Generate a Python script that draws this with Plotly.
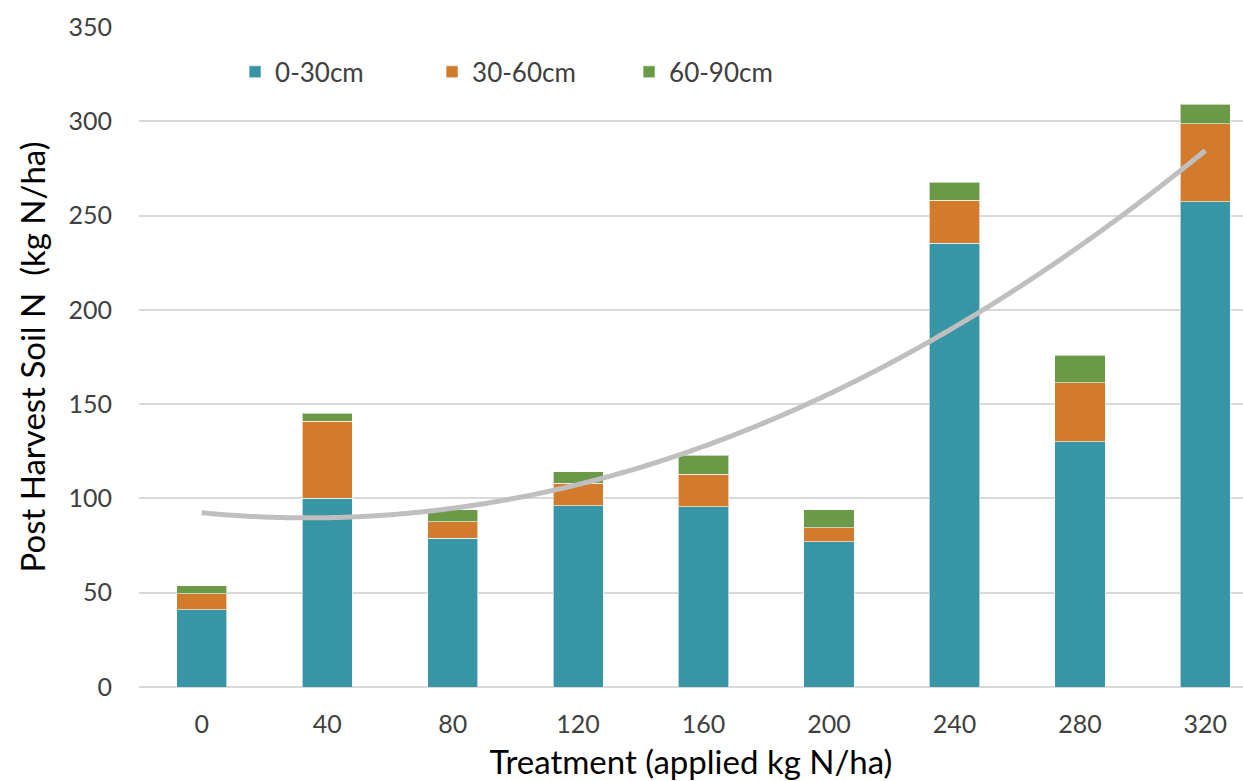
import numpy as np
import plotly.graph_objects as go

treatments = ["0", "40", "80", "120", "160", "200", "240", "280", "320"]
depth_0_30 = [41, 100, 79, 96, 95.6, 77, 235.3, 130, 257.2]
depth_30_60 = [8.5, 41, 8.6, 12, 17.1, 7.4, 22.7, 31.3, 41.4]
depth_60_90 = [4.2, 4.2, 6.4, 6.2, 10.1, 9.6, 9.7, 14.7, 10.4]

series = [("0-30cm", depth_0_30, "#3795A5"),
          ("30-60cm", depth_30_60, "#D27B2D"),
          ("60-90cm", depth_60_90, "#6A9A48")]

idx = np.arange(len(treatments))
totals = np.array(depth_0_30) + np.array(depth_30_60) + np.array(depth_60_90)
coef = np.polyfit(idx, totals, 2)
xs = np.linspace(0, len(treatments) - 1, 300)
ys = np.polyval(coef, xs)

fig = go.Figure()
for name, vals, col in series:
    fig.add_trace(go.Bar(x=idx, y=vals, name=name, marker_color=col,
                         marker_line=dict(color="rgba(255,255,255,0.6)", width=1),
                         width=0.4))
fig.add_trace(go.Scatter(x=xs, y=ys, mode="lines", showlegend=False,
                         line=dict(color="#BFBFBF", width=5, shape="spline"), hoverinfo="skip"))

fig.update_layout(
    barmode="stack",
    width=1243, height=781,
    margin=dict(l=139, r=0, t=27, b=94),
    plot_bgcolor="white", paper_bgcolor="white",
    font=dict(family="Lato, Open Sans, sans-serif", color="#404040", size=25),
    legend=dict(orientation="h", x=0.087, y=0.932, xanchor="left", yanchor="middle",
                font=dict(size=26, color="#404040"), traceorder="normal",
                entrywidth=152, entrywidthmode="pixels",
                bgcolor="rgba(0,0,0,0)"),
    xaxis=dict(range=[-0.5, 8.3], tickmode="array", tickvals=idx, ticktext=treatments,
               showgrid=False, zeroline=False, showline=False, ticks="",
               tickfont=dict(size=25, color="#404040"), ticklabelstandoff=20,
               title=dict(text="Treatment (applied kg N/ha)", font=dict(size=33, color="#000000"),
                          standoff=14)),
    yaxis=dict(range=[0, 350], dtick=50, showgrid=True, gridcolor="#D9D9D9", gridwidth=1.5,
               zeroline=True, zerolinecolor="#D9D9D9", zerolinewidth=1.5,
               tickfont=dict(size=25, color="#404040"), ticks="", ticklabelstandoff=26,
               title=dict(text="Post Harvest Soil N  (kg N/ha)", font=dict(size=33, color="#000000"),
                          standoff=12)),
)
fig.write_html("out.html")
